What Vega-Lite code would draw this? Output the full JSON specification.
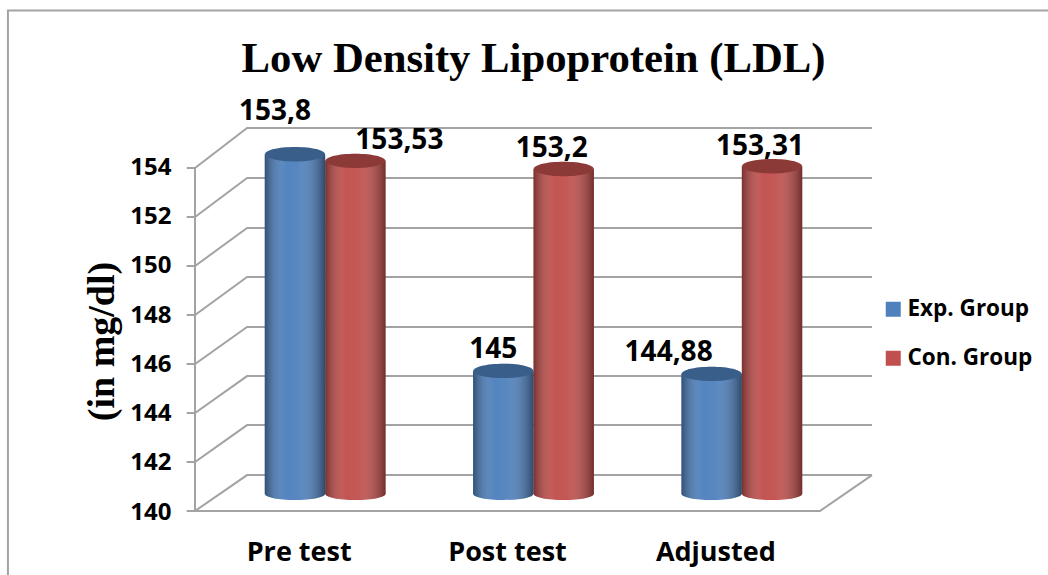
{
"$schema":"https://vega.github.io/schema/vega-lite/v6.json",
"autosize":"none","width":677,"height":412,
"padding":{"left":195,"right":176,"top":100,"bottom":63},
"background":"white",
"title":{"text":"Low Density Lipoprotein (LDL)","font":"Liberation Serif","fontSize":42.7,"fontWeight":"bold","color":"#000000","anchor":"middle","frame":"group","offset":23,"dy":97},
"config":{"view":{"stroke":null}},
"datasets":{
"bars":[
{"test":"Pre test","series":"Exp. Group","value":153.8,"label":"153,8"},
{"test":"Pre test","series":"Con. Group","value":153.53,"label":"153,53"},
{"test":"Post test","series":"Exp. Group","value":145,"label":"145"},
{"test":"Post test","series":"Con. Group","value":153.2,"label":"153,2"},
{"test":"Adjusted","series":"Exp. Group","value":144.88,"label":"144,88"},
{"test":"Adjusted","series":"Con. Group","value":153.31,"label":"153,31"}
],
"lines":[
{"line":"frame","seq":1,"pos":4.1,"value":159.63},{"line":"frame","seq":2,"pos":-0.898,"value":159.63},{"line":"frame","seq":3,"pos":-0.898,"value":136.7},
{"line":"axis","seq":1,"pos":0,"value":139.31},{"line":"axis","seq":2,"pos":0,"value":153.24},
{"line":"floor","seq":1,"pos":0,"value":139.31},{"line":"floor","seq":2,"pos":3.0,"value":139.31},{"line":"floor","seq":3,"pos":3.25,"value":140.77},
{"line":"g154","seq":1,"pos":-0.04,"value":153.24},{"line":"g154","seq":2,"pos":0,"value":153.24},{"line":"g154","seq":3,"pos":0.25,"value":154.86},{"line":"g154","seq":4,"pos":3.25,"value":154.86},
{"line":"g152","seq":1,"pos":-0.04,"value":151.25},{"line":"g152","seq":2,"pos":0,"value":151.25},{"line":"g152","seq":3,"pos":0.25,"value":152.83},{"line":"g152","seq":4,"pos":3.25,"value":152.83},
{"line":"g150","seq":1,"pos":-0.04,"value":149.26},{"line":"g150","seq":2,"pos":0,"value":149.26},{"line":"g150","seq":3,"pos":0.25,"value":150.8},{"line":"g150","seq":4,"pos":3.25,"value":150.8},
{"line":"g148","seq":1,"pos":-0.04,"value":147.27},{"line":"g148","seq":2,"pos":0,"value":147.27},{"line":"g148","seq":3,"pos":0.25,"value":148.81},{"line":"g148","seq":4,"pos":3.25,"value":148.81},
{"line":"g146","seq":1,"pos":-0.04,"value":145.28},{"line":"g146","seq":2,"pos":0,"value":145.28},{"line":"g146","seq":3,"pos":0.25,"value":146.78},{"line":"g146","seq":4,"pos":3.25,"value":146.78},
{"line":"g144","seq":1,"pos":-0.04,"value":143.29},{"line":"g144","seq":2,"pos":0,"value":143.29},{"line":"g144","seq":3,"pos":0.25,"value":144.79},{"line":"g144","seq":4,"pos":3.25,"value":144.79},
{"line":"g142","seq":1,"pos":-0.04,"value":141.3},{"line":"g142","seq":2,"pos":0,"value":141.3},{"line":"g142","seq":3,"pos":0.25,"value":142.8},{"line":"g142","seq":4,"pos":3.25,"value":142.8},
{"line":"g140","seq":1,"pos":-0.04,"value":139.31},{"line":"g140","seq":2,"pos":0,"value":139.31},{"line":"g140","seq":3,"pos":0.25,"value":140.77},{"line":"g140","seq":4,"pos":3.25,"value":140.77}
]},
"encoding":{"y":{"field":"value","type":"quantitative","scale":{"domain":[139.27,156],"nice":false,"zero":false},
   "axis":{"title":"(in mg/dl)","titleFont":"Liberation Serif","titleFontSize":38,"titleFontWeight":"bold","titleColor":"#000000","titleX":-74,"titleY":241,"values":[140,142,144,146,148,150,152,154],"domain":false,"ticks":false,"grid":false,"labelFont":"Open Sans","labelFontSize":24,"labelFontWeight":"bold","labelColor":"#000000","labelPadding":24,"labelOffset":18,"labelBound":false,"labelFlush":false,"labelOverlap":false}}},
"layer":[
{"data":{"name":"lines"},
 "mark":{"type":"line","stroke":"#a3a3a3","strokeWidth":2,"clip":false},
 "encoding":{
  "x":{"field":"pos","type":"quantitative","scale":{"domain":[0,3.25],"nice":false,"zero":false},"axis":null},
  "detail":{"field":"line"},
  "order":{"field":"seq","type":"quantitative"}}},
{"data":{"name":"bars"},
 "encoding":{
  "x":{"field":"test","type":"nominal","sort":["Pre test","Post test","Adjusted"],"scale":{"domain":["Pre test","Post test","Adjusted"],"range":[26,651],"paddingInner":0.42,"paddingOuter":0.21},
   "axis":{"title":null,"domain":false,"ticks":false,"grid":false,"labelAngle":0,"labelFont":"Open Sans","labelFontSize":27,"labelFontWeight":"bold","labelColor":"#000000","labelPadding":27,"labelOffset":-26}},
  "xOffset":{"field":"series","type":"nominal","scale":{"domain":["Exp. Group","Con. Group"]}}},
 "layer":[
  {"mark":{"type":"point","filled":true,"opacity":1,"shape":"M-1,0A1,0.2 0 1,1 1,0A1,0.2 0 1,1 -1,0Z","size":3600},
   "encoding":{"y":{"datum":140,"type":"quantitative","scale":{"domain":[139.27,156],"nice":false,"zero":false},"axis":{"title":"(in mg/dl)","titleFont":"Liberation Serif","titleFontSize":38,"titleFontWeight":"bold","titleColor":"#000000","titleX":-74,"titleY":241,"values":[140,142,144,146,148,150,152,154],"domain":false,"ticks":false,"grid":false,"labelFont":"Open Sans","labelFontSize":24,"labelFontWeight":"bold","labelColor":"#000000","labelPadding":24,"labelOffset":18,"labelBound":false,"labelFlush":false,"labelOverlap":false}},
    "color":{"field":"series","type":"nominal","scale":{"domain":["Exp. Group","Con. Group"],"range":["#4f81bd","#c0504d"]},
     "legend":{"title":null,"orient":"none","legendX":687,"legendY":198,"symbolType":"square","symbolSize":225,"symbolStrokeWidth":0,"symbolOpacity":1,"labelFont":"Open Sans","labelFontSize":22.5,"labelFontWeight":"bold","labelColor":"#000000","labelOffset":3,"rowPadding":26,"labelLimit":200}}}},
  {"mark":{"type":"point","filled":true,"opacity":1,"fill":{"x1":0,"y1":0,"x2":1,"y2":0,"gradient":"linear","stops":[{"offset":0,"color":"rgba(0,0,0,0.38)"},{"offset":0.35,"color":"rgba(255,255,255,0.03)"},{"offset":0.55,"color":"rgba(255,255,255,0.05)"},{"offset":1,"color":"rgba(0,0,0,0.42)"}]},"shape":"M-1,0A1,0.2 0 1,1 1,0A1,0.2 0 1,1 -1,0Z","size":3600},
   "encoding":{"y":{"datum":140,"type":"quantitative","scale":{"domain":[139.27,156],"nice":false,"zero":false},"axis":{"title":"(in mg/dl)","titleFont":"Liberation Serif","titleFontSize":38,"titleFontWeight":"bold","titleColor":"#000000","titleX":-74,"titleY":241,"values":[140,142,144,146,148,150,152,154],"domain":false,"ticks":false,"grid":false,"labelFont":"Open Sans","labelFontSize":24,"labelFontWeight":"bold","labelColor":"#000000","labelPadding":24,"labelOffset":18,"labelBound":false,"labelFlush":false,"labelOverlap":false}}}},
  {"mark":{"type":"bar"},
   "encoding":{"y2":{"datum":140},
    "color":{"field":"series","type":"nominal","scale":{"domain":["Exp. Group","Con. Group"],"range":["#4f81bd","#c0504d"]},
     "legend":{"title":null,"orient":"none","legendX":687,"legendY":198,"symbolType":"square","symbolSize":225,"symbolStrokeWidth":0,"symbolOpacity":1,"labelFont":"Open Sans","labelFontSize":22.5,"labelFontWeight":"bold","labelColor":"#000000","labelOffset":3,"rowPadding":26,"labelLimit":200}}}},
  {"mark":{"type":"bar","fill":{"x1":0,"y1":0,"x2":1,"y2":0,"gradient":"linear","stops":[{"offset":0,"color":"rgba(0,0,0,0.38)"},{"offset":0.35,"color":"rgba(255,255,255,0.03)"},{"offset":0.55,"color":"rgba(255,255,255,0.05)"},{"offset":1,"color":"rgba(0,0,0,0.42)"}]}},
   "encoding":{"y2":{"datum":140}}},
  {"mark":{"type":"point","filled":true,"opacity":1,"shape":"M-1,0A1,0.24 0 1,1 1,0A1,0.24 0 1,1 -1,0Z","size":3600},
   "encoding":{"color":{"field":"series","type":"nominal","scale":{"domain":["Exp. Group","Con. Group"],"range":["#4f81bd","#c0504d"]},
     "legend":{"title":null,"orient":"none","legendX":687,"legendY":198,"symbolType":"square","symbolSize":225,"symbolStrokeWidth":0,"symbolOpacity":1,"labelFont":"Open Sans","labelFontSize":22.5,"labelFontWeight":"bold","labelColor":"#000000","labelOffset":3,"rowPadding":26,"labelLimit":200}}}},
  {"mark":{"type":"point","filled":true,"opacity":0.27,"fill":"#000000","shape":"M-1,0A1,0.24 0 1,1 1,0A1,0.24 0 1,1 -1,0Z","size":3600}},
  {"transform":[{"filter":"datum.label==='153,8'"}],"mark":{"type":"text","font":"Open Sans","fontSize":28,"fontWeight":"bold","color":"#000000","dx":-20,"dy":-42},"encoding":{"text":{"field":"label"}}},
  {"transform":[{"filter":"datum.label==='153,53'"}],"mark":{"type":"text","font":"Open Sans","fontSize":28,"fontWeight":"bold","color":"#000000","dx":44,"dy":-20},"encoding":{"text":{"field":"label"}}},
  {"transform":[{"filter":"datum.label==='145'"}],"mark":{"type":"text","font":"Open Sans","fontSize":28,"fontWeight":"bold","color":"#000000","dx":-10,"dy":-21},"encoding":{"text":{"field":"label"}}},
  {"transform":[{"filter":"datum.label==='153,2'"}],"mark":{"type":"text","font":"Open Sans","fontSize":28,"fontWeight":"bold","color":"#000000","dx":-12,"dy":-20},"encoding":{"text":{"field":"label"}}},
  {"transform":[{"filter":"datum.label==='144,88'"}],"mark":{"type":"text","font":"Open Sans","fontSize":28,"fontWeight":"bold","color":"#000000","dx":-43,"dy":-21},"encoding":{"text":{"field":"label"}}},
  {"transform":[{"filter":"datum.label==='153,31'"}],"mark":{"type":"text","font":"Open Sans","fontSize":28,"fontWeight":"bold","color":"#000000","dx":-12,"dy":-19},"encoding":{"text":{"field":"label"}}}
 ]}
],
"resolve":{"scale":{"x":"independent"}}
}
